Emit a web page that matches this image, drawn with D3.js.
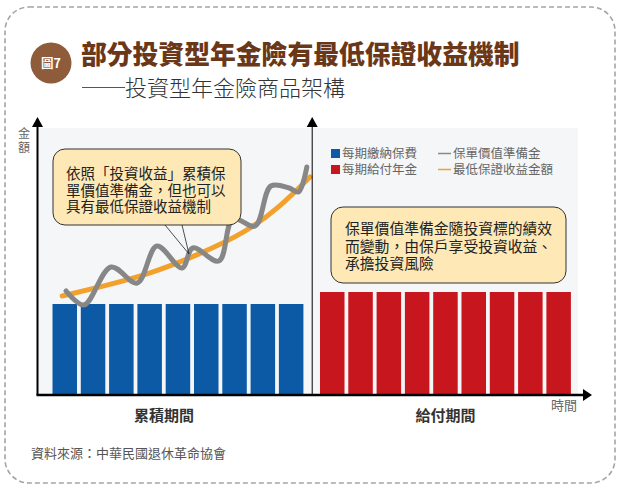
<!DOCTYPE html>
<html><head><meta charset="utf-8">
<script src="https://cdn.jsdelivr.net/npm/d3@7"></script>
<style>
body{margin:0;background:#fff;}
svg{display:block;font-family:"Noto Sans CJK TC","Noto Sans CJK SC","Noto Sans",sans-serif;}
</style>
</head><body>
<svg id="c" width="620" height="495"></svg>
<script>
// ---------- data ----------
const titleText = "部分投資型年金險有最低保證收益機制";
const subtitleText = "投資型年金險商品架構";
const badgeText = "圖7";
const yAxisLabel = "金額";
const xAxisLabel = "時間";
const phaseLabels = ["累積期間", "給付期間"];
const sourceText = "資料來源：中華民國退休革命協會";

const accumPeriods = [1, 2, 3, 4, 5, 6, 7, 8, 9];
const payoutPeriods = [10, 11, 12, 13, 14, 15, 16, 17, 18];
const premiumValues = [91, 91, 91, 91, 91, 91, 91, 91, 91];
const annuityValues = [103, 103, 103, 103, 103, 103, 103, 103, 103];

// policy value reserve (wavy grey line): time, amount
const policyTime  = [1.01, 1.64, 2.60, 3.52, 4.22, 5.11, 5.49, 6.41, 6.91, 7.69, 8.25, 8.90, 9.22, 9.52];
const policyValue = [104, 90, 128, 112, 149, 127, 147, 134, 176, 169, 209, 207, 203, 228];
// minimum guaranteed amount (orange line)
const guaranteeTime  = [0.87, 2.21, 3.98, 5.74, 7.33, 8.57, 9.63];
const guaranteeValue = [99, 108, 121, 141, 162, 188, 218];

const legendBars = ["每期繳納保費", "每期給付年金"];
const legendLines = ["保單價值準備金", "最低保證收益金額"];

const callout1 = ["依照「投資收益」累積保", "單價值準備金，但也可以", "具有最低保證收益機制"];
const callout2 = ["保單價值準備金隨投資標的績效", "而變動，由保戶享受投資收益、", "承擔投資風險"];

// ---------- colours ----------
const C = {
  blue: "#0c5aa6", red: "#c8161e", orange: "#f2a22c", grey: "#878787",
  brown: "#6a3818", badge: "#8e5c3a", bubble: "#fde8b6", bg: "#f4f6f8"
};

const svg = d3.select("#c");

// outer dashed frame
svg.append("rect").attr("x", 5).attr("y", 7).attr("width", 610).attr("height", 476)
  .attr("rx", 24).attr("fill", "none").attr("stroke", "#a5a5a5")
  .attr("stroke-width", 1.6).attr("stroke-dasharray", "5,3");

// badge + titles
svg.append("circle").attr("cx", 51).attr("cy", 63).attr("r", 20.5).attr("fill", C.badge);
svg.append("text").attr("x", 51).attr("y", 67.5).attr("text-anchor", "middle")
  .attr("fill", "#fff").attr("font-size", 12.5).attr("font-weight", "bold").text(badgeText);
svg.append("text").attr("x", 81).attr("y", 64).attr("fill", C.brown)
  .attr("font-size", 25.8).attr("font-weight", 900).text(titleText);
svg.append("line").attr("x1", 82).attr("x2", 125).attr("y1", 87.5).attr("y2", 87.5)
  .attr("stroke", "#555").attr("stroke-width", 1);
svg.append("text").attr("x", 125).attr("y", 96).attr("fill", "#333")
  .attr("font-size", 22).attr("font-weight", 300).text(subtitleText);

// ---------- scales ----------
const x = d3.scaleLinear().domain([0, 19.6]).range([37.5, 592]);
const y = d3.scaleLinear().domain([0, 267]).range([395, 128]);
const xAcc = d3.scaleBand().domain(accumPeriods).range([50.6, 305.3]).paddingInner(0.134).paddingOuter(0.067);
const xPay = d3.scaleBand().domain(payoutPeriods).range([318.1, 572.8]).paddingInner(0.134).paddingOuter(0.067);

// plot background
svg.append("rect").attr("x", x(0)).attr("y", y(267)).attr("width", 578 - x(0))
  .attr("height", y(0) - y(267)).attr("fill", C.bg);

// bars
svg.append("g").selectAll("rect").data(accumPeriods).join("rect")
  .attr("x", d => xAcc(d)).attr("width", xAcc.bandwidth())
  .attr("y", (d, i) => y(premiumValues[i])).attr("height", (d, i) => y(0) - y(premiumValues[i]))
  .attr("fill", C.blue);
svg.append("g").selectAll("rect").data(payoutPeriods).join("rect")
  .attr("x", d => xPay(d)).attr("width", xPay.bandwidth())
  .attr("y", (d, i) => y(annuityValues[i])).attr("height", (d, i) => y(0) - y(annuityValues[i]))
  .attr("fill", C.red);

// lines
const gData = guaranteeTime.map((t, i) => [t, guaranteeValue[i]]);
const pData = policyTime.map((t, i) => [t, policyValue[i]]);
svg.append("path").datum(gData)
  .attr("d", d3.line().x(d => x(d[0])).y(d => y(d[1])).curve(d3.curveBasis))
  .attr("fill", "none").attr("stroke", C.orange).attr("stroke-width", 5).attr("stroke-linecap", "round");
svg.append("path").datum(pData)
  .attr("d", d3.line().x(d => x(d[0])).y(d => y(d[1])).curve(d3.curveCatmullRom.alpha(0.5)))
  .attr("fill", "none").attr("stroke", C.grey).attr("stroke-width", 5)
  .attr("stroke-linecap", "round").attr("stroke-linejoin", "round");

// axes
const midX = (xAcc.range()[1] + xPay.range()[0]) / 2 + 0.5;
svg.append("line").attr("x1", x(0)).attr("x2", x(0)).attr("y1", y(0)).attr("y2", 126)
  .attr("stroke", "#000").attr("stroke-width", 2);
svg.append("path").attr("d", `M${x(0)},117 L${x(0) - 5.5},127 L${x(0) + 5.5},127 Z`).attr("fill", "#000");
svg.append("line").attr("x1", midX).attr("x2", midX).attr("y1", y(0)).attr("y2", 126)
  .attr("stroke", "#000").attr("stroke-width", 1);
svg.append("path").attr("d", `M${midX},117 L${midX - 5.5},127 L${midX + 5.5},127 Z`).attr("fill", "#000");
svg.append("line").attr("x1", x(0) - 1).attr("x2", 584).attr("y1", y(0)).attr("y2", y(0))
  .attr("stroke", "#000").attr("stroke-width", 2.5);
svg.append("path").attr("d", `M592,${y(0)} L583,${y(0) - 6} L583,${y(0) + 6} Z`).attr("fill", "#000");

// axis labels
svg.append("text").attr("x", 24).attr("y", 127)
  .attr("writing-mode", "vertical-rl").attr("glyph-orientation-vertical", 0)
  .attr("letter-spacing", 2).attr("font-size", 12).attr("fill", "#666").text(yAxisLabel);
svg.append("text").attr("x", 564).attr("y", 410).attr("text-anchor", "middle")
  .attr("font-size", 13).attr("fill", "#666").text(xAxisLabel);
const accCenter = 164, payCenter = (xPay.range()[0] + xPay.range()[1]) / 2;
svg.append("text").attr("x", accCenter).attr("y", 421).attr("text-anchor", "middle")
  .attr("font-size", 15).attr("font-weight", "bold").attr("fill", "#333").text(phaseLabels[0]);
svg.append("text").attr("x", payCenter).attr("y", 421).attr("text-anchor", "middle")
  .attr("font-size", 15).attr("font-weight", "bold").attr("fill", "#333").text(phaseLabels[1]);

// legend
const lg = svg.append("g").attr("font-size", 12.5).attr("fill", "#666");
legendBars.forEach((t, i) => {
  lg.append("rect").attr("x", 331).attr("y", 149 + i * 16).attr("width", 9).attr("height", 9)
    .attr("fill", i === 0 ? C.blue : C.red);
  lg.append("text").attr("x", 342).attr("y", 158 + i * 16).text(t);
});
legendLines.forEach((t, i) => {
  lg.append("line").attr("x1", 438).attr("x2", 451).attr("y1", 153.5 + i * 16).attr("y2", 153.5 + i * 16)
    .attr("stroke", i === 0 ? "#888" : C.orange).attr("stroke-width", 1.5);
  lg.append("text").attr("x", 453).attr("y", 158 + i * 16).text(t);
});

// callout 1
svg.append("rect").attr("x", 53).attr("y", 149).attr("width", 188).attr("height", 76).attr("rx", 12)
  .attr("fill", C.bubble).attr("stroke", "#333").attr("stroke-width", 1);
svg.append("path").attr("d", "M165,225 L189,254 M182,225 L189,254")
  .attr("fill", "none").attr("stroke", "#222").attr("stroke-width", 0.8);
const t1 = svg.append("text").attr("font-size", 14.5).attr("fill", "#222");
t1.selectAll("tspan").data(callout1).join("tspan")
  .attr("x", 66).attr("y", (d, i) => 179 + i * 16.5).text(d => d);

// callout 2
svg.append("rect").attr("x", 331).attr("y", 207).attr("width", 235).attr("height", 76).attr("rx", 12)
  .attr("fill", C.bubble).attr("stroke", "#333").attr("stroke-width", 1);
const t2 = svg.append("text").attr("font-size", 14.8).attr("fill", "#222");
t2.selectAll("tspan").data(callout2).join("tspan")
  .attr("x", 345).attr("y", (d, i) => 234 + i * 17.5).text(d => d);

// source
svg.append("text").attr("x", 31).attr("y", 458).attr("font-size", 13).attr("fill", "#555").text(sourceText);
</script>
</body></html>
